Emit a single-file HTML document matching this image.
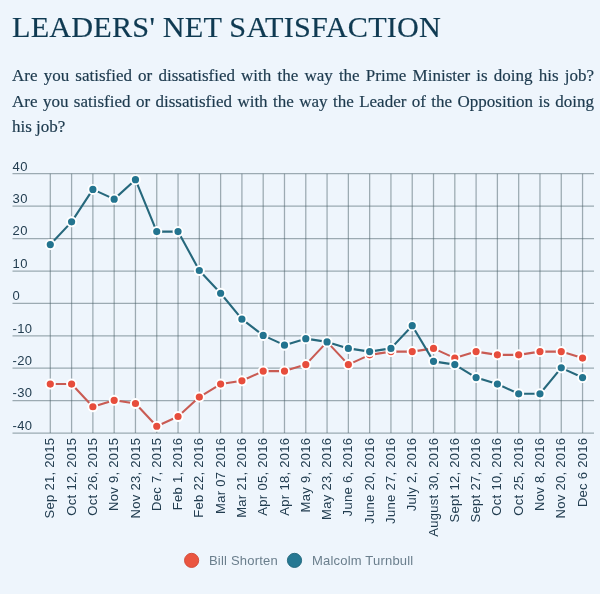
<!DOCTYPE html>
<html><head><meta charset="utf-8">
<style>
html,body{margin:0;padding:0;}
body{width:600px;height:594px;background:#eef5fc;position:relative;overflow:hidden;}
h1{will-change:transform;position:absolute;left:12px;top:12.3px;-webkit-text-stroke:0.2px #0f3a52;margin:0;letter-spacing:0.22px;font:30.2px/1 "Liberation Serif",serif;color:#0f3a52;white-space:nowrap;}
.sub{will-change:transform;-webkit-text-stroke:0.2px #1d3a4e;position:absolute;left:12px;top:62.6px;width:582px;margin:0;font:17px/25.5px "Liberation Serif",serif;color:#1d3a4e;text-align:justify;}
svg{position:absolute;left:0;top:0;will-change:transform;}
.yl{font:13px "Liberation Sans",sans-serif;fill:#223d50;letter-spacing:0.4px;}
.xl{font:13px "Liberation Sans",sans-serif;fill:#223d50;letter-spacing:0.3px;}
.lg{font:13px "Liberation Sans",sans-serif;fill:#6a7e8c;letter-spacing:0.2px;}
</style></head><body>
<h1>LEADERS' NET SATISFACTION</h1>
<p class="sub">Are you satisfied or dissatisfied with the way the Prime Minister is doing his job? Are you satisfied or dissatisfied with the way the Leader of the Opposition is doing his job?</p>
<svg width="600" height="594" viewBox="0 0 600 594">
<line x1="12.5" x2="594" y1="173.70" y2="173.70" stroke="#4a5f67" stroke-opacity="0.5" stroke-width="1.25"/>
<text x="12.5" y="170.50" class="yl">40</text>
<line x1="12.5" x2="594" y1="206.10" y2="206.10" stroke="#4a5f67" stroke-opacity="0.5" stroke-width="1.25"/>
<text x="12.5" y="202.90" class="yl">30</text>
<line x1="12.5" x2="594" y1="238.50" y2="238.50" stroke="#4a5f67" stroke-opacity="0.5" stroke-width="1.25"/>
<text x="12.5" y="235.30" class="yl">20</text>
<line x1="12.5" x2="594" y1="271.00" y2="271.00" stroke="#4a5f67" stroke-opacity="0.5" stroke-width="1.25"/>
<text x="12.5" y="267.80" class="yl">10</text>
<line x1="12.5" x2="594" y1="303.30" y2="303.30" stroke="#4a5f67" stroke-opacity="0.5" stroke-width="1.25"/>
<text x="12.5" y="300.10" class="yl">0</text>
<line x1="12.5" x2="594" y1="335.80" y2="335.80" stroke="#4a5f67" stroke-opacity="0.5" stroke-width="1.25"/>
<text x="12.5" y="332.60" class="yl">-10</text>
<line x1="12.5" x2="594" y1="368.20" y2="368.20" stroke="#4a5f67" stroke-opacity="0.5" stroke-width="1.25"/>
<text x="12.5" y="365.00" class="yl">-20</text>
<line x1="12.5" x2="594" y1="400.60" y2="400.60" stroke="#4a5f67" stroke-opacity="0.5" stroke-width="1.25"/>
<text x="12.5" y="397.40" class="yl">-30</text>
<line x1="12.5" x2="594" y1="433.10" y2="433.10" stroke="#4a5f67" stroke-opacity="0.5" stroke-width="1.25"/>
<text x="12.5" y="429.90" class="yl">-40</text>
<line x1="50.30" x2="50.30" y1="173.70" y2="433.10" stroke="#4a5f67" stroke-opacity="0.5" stroke-width="1.25"/>
<text transform="translate(54.40,437.6) rotate(-90)" text-anchor="end" class="xl">Sep 21, 2015</text>
<line x1="71.59" x2="71.59" y1="173.70" y2="433.10" stroke="#4a5f67" stroke-opacity="0.5" stroke-width="1.25"/>
<text transform="translate(75.69,437.6) rotate(-90)" text-anchor="end" class="xl">Oct 12, 2015</text>
<line x1="92.88" x2="92.88" y1="173.70" y2="433.10" stroke="#4a5f67" stroke-opacity="0.5" stroke-width="1.25"/>
<text transform="translate(96.98,437.6) rotate(-90)" text-anchor="end" class="xl">Oct 26, 2015</text>
<line x1="114.17" x2="114.17" y1="173.70" y2="433.10" stroke="#4a5f67" stroke-opacity="0.5" stroke-width="1.25"/>
<text transform="translate(118.27,437.6) rotate(-90)" text-anchor="end" class="xl">Nov 9, 2015</text>
<line x1="135.46" x2="135.46" y1="173.70" y2="433.10" stroke="#4a5f67" stroke-opacity="0.5" stroke-width="1.25"/>
<text transform="translate(139.56,437.6) rotate(-90)" text-anchor="end" class="xl">Nov 23, 2015</text>
<line x1="156.75" x2="156.75" y1="173.70" y2="433.10" stroke="#4a5f67" stroke-opacity="0.5" stroke-width="1.25"/>
<text transform="translate(160.85,437.6) rotate(-90)" text-anchor="end" class="xl">Dec 7, 2015</text>
<line x1="178.04" x2="178.04" y1="173.70" y2="433.10" stroke="#4a5f67" stroke-opacity="0.5" stroke-width="1.25"/>
<text transform="translate(182.14,437.6) rotate(-90)" text-anchor="end" class="xl">Feb 1, 2016</text>
<line x1="199.33" x2="199.33" y1="173.70" y2="433.10" stroke="#4a5f67" stroke-opacity="0.5" stroke-width="1.25"/>
<text transform="translate(203.43,437.6) rotate(-90)" text-anchor="end" class="xl">Feb 22, 2016</text>
<line x1="220.62" x2="220.62" y1="173.70" y2="433.10" stroke="#4a5f67" stroke-opacity="0.5" stroke-width="1.25"/>
<text transform="translate(224.72,437.6) rotate(-90)" text-anchor="end" class="xl">Mar 07 2016</text>
<line x1="241.91" x2="241.91" y1="173.70" y2="433.10" stroke="#4a5f67" stroke-opacity="0.5" stroke-width="1.25"/>
<text transform="translate(246.01,437.6) rotate(-90)" text-anchor="end" class="xl">Mar 21, 2016</text>
<line x1="263.20" x2="263.20" y1="173.70" y2="433.10" stroke="#4a5f67" stroke-opacity="0.5" stroke-width="1.25"/>
<text transform="translate(267.30,437.6) rotate(-90)" text-anchor="end" class="xl">Apr 05, 2016</text>
<line x1="284.49" x2="284.49" y1="173.70" y2="433.10" stroke="#4a5f67" stroke-opacity="0.5" stroke-width="1.25"/>
<text transform="translate(288.59,437.6) rotate(-90)" text-anchor="end" class="xl">Apr 18, 2016</text>
<line x1="305.78" x2="305.78" y1="173.70" y2="433.10" stroke="#4a5f67" stroke-opacity="0.5" stroke-width="1.25"/>
<text transform="translate(309.88,437.6) rotate(-90)" text-anchor="end" class="xl">May 9, 2016</text>
<line x1="327.07" x2="327.07" y1="173.70" y2="433.10" stroke="#4a5f67" stroke-opacity="0.5" stroke-width="1.25"/>
<text transform="translate(331.17,437.6) rotate(-90)" text-anchor="end" class="xl">May 23, 2016</text>
<line x1="348.36" x2="348.36" y1="173.70" y2="433.10" stroke="#4a5f67" stroke-opacity="0.5" stroke-width="1.25"/>
<text transform="translate(352.46,437.6) rotate(-90)" text-anchor="end" class="xl">June 6, 2016</text>
<line x1="369.65" x2="369.65" y1="173.70" y2="433.10" stroke="#4a5f67" stroke-opacity="0.5" stroke-width="1.25"/>
<text transform="translate(373.75,437.6) rotate(-90)" text-anchor="end" class="xl">June 20, 2016</text>
<line x1="390.94" x2="390.94" y1="173.70" y2="433.10" stroke="#4a5f67" stroke-opacity="0.5" stroke-width="1.25"/>
<text transform="translate(395.04,437.6) rotate(-90)" text-anchor="end" class="xl">June 27, 2016</text>
<line x1="412.23" x2="412.23" y1="173.70" y2="433.10" stroke="#4a5f67" stroke-opacity="0.5" stroke-width="1.25"/>
<text transform="translate(416.33,437.6) rotate(-90)" text-anchor="end" class="xl">July 2, 2016</text>
<line x1="433.52" x2="433.52" y1="173.70" y2="433.10" stroke="#4a5f67" stroke-opacity="0.5" stroke-width="1.25"/>
<text transform="translate(437.62,437.6) rotate(-90)" text-anchor="end" class="xl">August 30, 2016</text>
<line x1="454.81" x2="454.81" y1="173.70" y2="433.10" stroke="#4a5f67" stroke-opacity="0.5" stroke-width="1.25"/>
<text transform="translate(458.91,437.6) rotate(-90)" text-anchor="end" class="xl">Sept 12, 2016</text>
<line x1="476.10" x2="476.10" y1="173.70" y2="433.10" stroke="#4a5f67" stroke-opacity="0.5" stroke-width="1.25"/>
<text transform="translate(480.20,437.6) rotate(-90)" text-anchor="end" class="xl">Sept 27, 2016</text>
<line x1="497.39" x2="497.39" y1="173.70" y2="433.10" stroke="#4a5f67" stroke-opacity="0.5" stroke-width="1.25"/>
<text transform="translate(501.49,437.6) rotate(-90)" text-anchor="end" class="xl">Oct 10, 2016</text>
<line x1="518.68" x2="518.68" y1="173.70" y2="433.10" stroke="#4a5f67" stroke-opacity="0.5" stroke-width="1.25"/>
<text transform="translate(522.78,437.6) rotate(-90)" text-anchor="end" class="xl">Oct 25, 2016</text>
<line x1="539.97" x2="539.97" y1="173.70" y2="433.10" stroke="#4a5f67" stroke-opacity="0.5" stroke-width="1.25"/>
<text transform="translate(544.07,437.6) rotate(-90)" text-anchor="end" class="xl">Nov 8, 2016</text>
<line x1="561.26" x2="561.26" y1="173.70" y2="433.10" stroke="#4a5f67" stroke-opacity="0.5" stroke-width="1.25"/>
<text transform="translate(565.36,437.6) rotate(-90)" text-anchor="end" class="xl">Nov 20, 2016</text>
<line x1="582.55" x2="582.55" y1="173.70" y2="433.10" stroke="#4a5f67" stroke-opacity="0.5" stroke-width="1.25"/>
<text transform="translate(586.65,437.6) rotate(-90)" text-anchor="end" class="xl">Dec 6 2016</text>
<polyline points="50.30,384.06 71.59,384.06 92.88,406.77 114.17,400.28 135.46,403.52 156.75,426.23 178.04,416.50 199.33,397.04 220.62,384.06 241.91,380.82 263.20,371.08 284.49,371.08 305.78,364.60 327.07,341.89 348.36,364.60 369.65,354.86 390.94,351.62 412.23,351.62 433.52,348.38 454.81,358.11 476.10,351.62 497.39,354.86 518.68,354.86 539.97,351.62 561.26,351.62 582.55,358.11" fill="none" stroke="#c95b53" stroke-width="2.1" stroke-linejoin="round"/>
<circle cx="50.30" cy="384.06" r="4.55" fill="#e74d3c" stroke="#ffffff" stroke-width="1.9"/>
<circle cx="71.59" cy="384.06" r="4.55" fill="#e74d3c" stroke="#ffffff" stroke-width="1.9"/>
<circle cx="92.88" cy="406.77" r="4.55" fill="#e74d3c" stroke="#ffffff" stroke-width="1.9"/>
<circle cx="114.17" cy="400.28" r="4.55" fill="#e74d3c" stroke="#ffffff" stroke-width="1.9"/>
<circle cx="135.46" cy="403.52" r="4.55" fill="#e74d3c" stroke="#ffffff" stroke-width="1.9"/>
<circle cx="156.75" cy="426.23" r="4.55" fill="#e74d3c" stroke="#ffffff" stroke-width="1.9"/>
<circle cx="178.04" cy="416.50" r="4.55" fill="#e74d3c" stroke="#ffffff" stroke-width="1.9"/>
<circle cx="199.33" cy="397.04" r="4.55" fill="#e74d3c" stroke="#ffffff" stroke-width="1.9"/>
<circle cx="220.62" cy="384.06" r="4.55" fill="#e74d3c" stroke="#ffffff" stroke-width="1.9"/>
<circle cx="241.91" cy="380.82" r="4.55" fill="#e74d3c" stroke="#ffffff" stroke-width="1.9"/>
<circle cx="263.20" cy="371.08" r="4.55" fill="#e74d3c" stroke="#ffffff" stroke-width="1.9"/>
<circle cx="284.49" cy="371.08" r="4.55" fill="#e74d3c" stroke="#ffffff" stroke-width="1.9"/>
<circle cx="305.78" cy="364.60" r="4.55" fill="#e74d3c" stroke="#ffffff" stroke-width="1.9"/>
<circle cx="327.07" cy="341.89" r="4.55" fill="#e74d3c" stroke="#ffffff" stroke-width="1.9"/>
<circle cx="348.36" cy="364.60" r="4.55" fill="#e74d3c" stroke="#ffffff" stroke-width="1.9"/>
<circle cx="369.65" cy="354.86" r="4.55" fill="#e74d3c" stroke="#ffffff" stroke-width="1.9"/>
<circle cx="390.94" cy="351.62" r="4.55" fill="#e74d3c" stroke="#ffffff" stroke-width="1.9"/>
<circle cx="412.23" cy="351.62" r="4.55" fill="#e74d3c" stroke="#ffffff" stroke-width="1.9"/>
<circle cx="433.52" cy="348.38" r="4.55" fill="#e74d3c" stroke="#ffffff" stroke-width="1.9"/>
<circle cx="454.81" cy="358.11" r="4.55" fill="#e74d3c" stroke="#ffffff" stroke-width="1.9"/>
<circle cx="476.10" cy="351.62" r="4.55" fill="#e74d3c" stroke="#ffffff" stroke-width="1.9"/>
<circle cx="497.39" cy="354.86" r="4.55" fill="#e74d3c" stroke="#ffffff" stroke-width="1.9"/>
<circle cx="518.68" cy="354.86" r="4.55" fill="#e74d3c" stroke="#ffffff" stroke-width="1.9"/>
<circle cx="539.97" cy="351.62" r="4.55" fill="#e74d3c" stroke="#ffffff" stroke-width="1.9"/>
<circle cx="561.26" cy="351.62" r="4.55" fill="#e74d3c" stroke="#ffffff" stroke-width="1.9"/>
<circle cx="582.55" cy="358.11" r="4.55" fill="#e74d3c" stroke="#ffffff" stroke-width="1.9"/>
<polyline points="50.30,244.57 71.59,221.86 92.88,189.42 114.17,199.15 135.46,179.69 156.75,231.59 178.04,231.59 199.33,270.52 220.62,293.23 241.91,319.18 263.20,335.40 284.49,345.13 305.78,338.64 327.07,341.89 348.36,348.38 369.65,351.62 390.94,348.38 412.23,325.67 433.52,361.35 454.81,364.60 476.10,377.57 497.39,384.06 518.68,393.79 539.97,393.79 561.26,367.84 582.55,377.57" fill="none" stroke="#26687c" stroke-width="2.1" stroke-linejoin="round"/>
<circle cx="50.30" cy="244.57" r="4.55" fill="#23748f" stroke="#ffffff" stroke-width="1.9"/>
<circle cx="71.59" cy="221.86" r="4.55" fill="#23748f" stroke="#ffffff" stroke-width="1.9"/>
<circle cx="92.88" cy="189.42" r="4.55" fill="#23748f" stroke="#ffffff" stroke-width="1.9"/>
<circle cx="114.17" cy="199.15" r="4.55" fill="#23748f" stroke="#ffffff" stroke-width="1.9"/>
<circle cx="135.46" cy="179.69" r="4.55" fill="#23748f" stroke="#ffffff" stroke-width="1.9"/>
<circle cx="156.75" cy="231.59" r="4.55" fill="#23748f" stroke="#ffffff" stroke-width="1.9"/>
<circle cx="178.04" cy="231.59" r="4.55" fill="#23748f" stroke="#ffffff" stroke-width="1.9"/>
<circle cx="199.33" cy="270.52" r="4.55" fill="#23748f" stroke="#ffffff" stroke-width="1.9"/>
<circle cx="220.62" cy="293.23" r="4.55" fill="#23748f" stroke="#ffffff" stroke-width="1.9"/>
<circle cx="241.91" cy="319.18" r="4.55" fill="#23748f" stroke="#ffffff" stroke-width="1.9"/>
<circle cx="263.20" cy="335.40" r="4.55" fill="#23748f" stroke="#ffffff" stroke-width="1.9"/>
<circle cx="284.49" cy="345.13" r="4.55" fill="#23748f" stroke="#ffffff" stroke-width="1.9"/>
<circle cx="305.78" cy="338.64" r="4.55" fill="#23748f" stroke="#ffffff" stroke-width="1.9"/>
<circle cx="327.07" cy="341.89" r="4.55" fill="#23748f" stroke="#ffffff" stroke-width="1.9"/>
<circle cx="348.36" cy="348.38" r="4.55" fill="#23748f" stroke="#ffffff" stroke-width="1.9"/>
<circle cx="369.65" cy="351.62" r="4.55" fill="#23748f" stroke="#ffffff" stroke-width="1.9"/>
<circle cx="390.94" cy="348.38" r="4.55" fill="#23748f" stroke="#ffffff" stroke-width="1.9"/>
<circle cx="412.23" cy="325.67" r="4.55" fill="#23748f" stroke="#ffffff" stroke-width="1.9"/>
<circle cx="433.52" cy="361.35" r="4.55" fill="#23748f" stroke="#ffffff" stroke-width="1.9"/>
<circle cx="454.81" cy="364.60" r="4.55" fill="#23748f" stroke="#ffffff" stroke-width="1.9"/>
<circle cx="476.10" cy="377.57" r="4.55" fill="#23748f" stroke="#ffffff" stroke-width="1.9"/>
<circle cx="497.39" cy="384.06" r="4.55" fill="#23748f" stroke="#ffffff" stroke-width="1.9"/>
<circle cx="518.68" cy="393.79" r="4.55" fill="#23748f" stroke="#ffffff" stroke-width="1.9"/>
<circle cx="539.97" cy="393.79" r="4.55" fill="#23748f" stroke="#ffffff" stroke-width="1.9"/>
<circle cx="561.26" cy="367.84" r="4.55" fill="#23748f" stroke="#ffffff" stroke-width="1.9"/>
<circle cx="582.55" cy="377.57" r="4.55" fill="#23748f" stroke="#ffffff" stroke-width="1.9"/>
<circle cx="191.6" cy="560.4" r="7.1" fill="#ea5540" stroke="#cf4634" stroke-width="0.9"/>
<text x="209" y="565" class="lg">Bill Shorten</text>
<circle cx="294.5" cy="560.4" r="7.1" fill="#267893" stroke="#1d6378" stroke-width="0.9"/>
<text x="312" y="565" class="lg">Malcolm Turnbull</text>
</svg>
</body></html>
